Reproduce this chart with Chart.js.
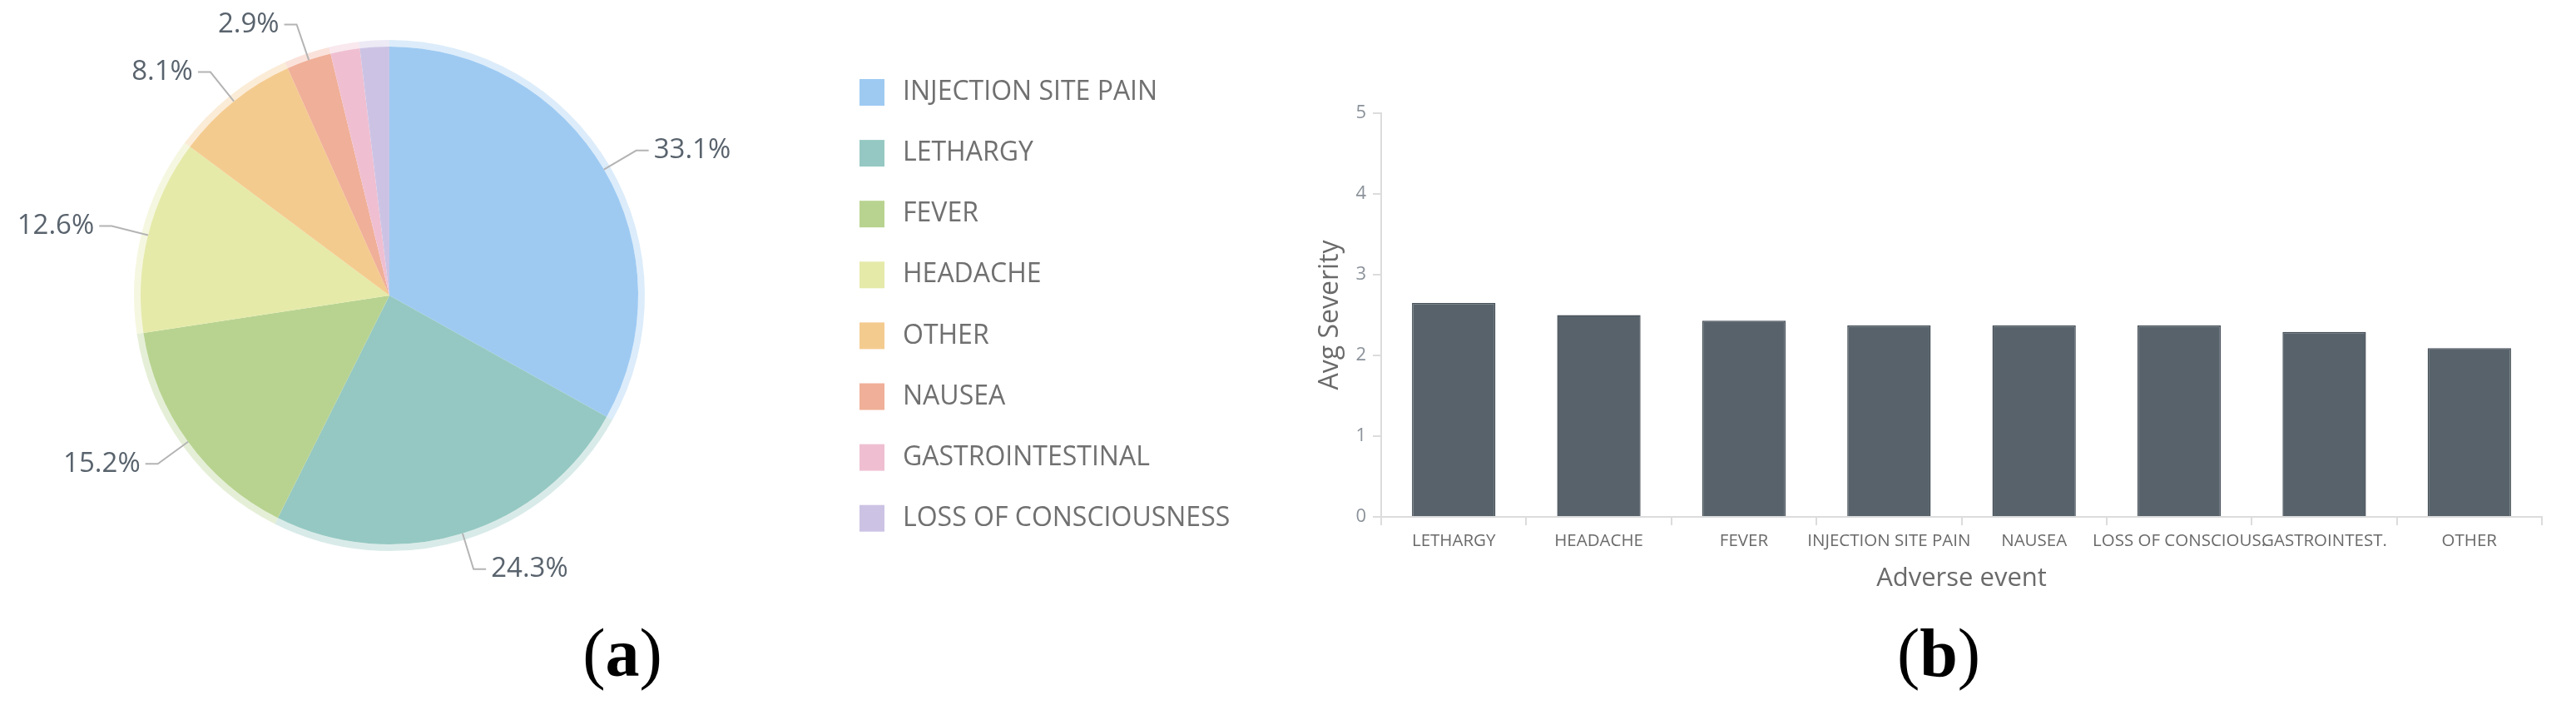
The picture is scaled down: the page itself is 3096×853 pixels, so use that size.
<!DOCTYPE html>
<html lang="en">
<head>
  <meta charset="UTF-8" />
  <title>Adverse events</title>
  <script src="https://cdn.jsdelivr.net/npm/chart.js"></script>
  <style>
    body { margin: 0; background: #fff; width: 3096px; height: 853px; position: relative; overflow: hidden; }
    canvas { position: absolute; top: 0; }
    #pieChart { left: 0; }
    #barChart { left: 1560px; }
    .caption { position: absolute; top: 738px; width: 200px; text-align: center;
      font-family: "Liberation Serif", serif; font-size: 82px; color: #000; }
    .caption b { font-weight: bold; }
  </style>
</head>
<body>
  <canvas id="pieChart" width="1560" height="720"></canvas>
  <canvas id="barChart" width="1536" height="740"></canvas>
  <div class="caption" style="left: 648px;">(<b>a</b>)</div>
  <div class="caption" style="left: 2230px;">(<b>b</b>)</div>

  <script>
    // (a) share of adverse events
    const pieCategories = ['INJECTION SITE PAIN', 'LETHARGY', 'FEVER', 'HEADACHE', 'OTHER',
      'NAUSEA', 'GASTROINTESTINAL', 'LOSS OF CONSCIOUSNESS'];
    const pieShares = [33.1, 24.3, 15.2, 12.6, 8.1, 2.9, 1.9, 1.9];
    const pieColors = ['#9ecaf2', '#95c8c2', '#b8d390', '#e5eaa9', '#f4cb8f', '#f0af98', '#efbfd1', '#ccc3e4'];

    // (b) average severity per event
    const barCategories = ['LETHARGY', 'HEADACHE', 'FEVER', 'INJECTION SITE PAIN', 'NAUSEA',
      'LOSS OF CONSCIOUS.', 'GASTROINTEST.', 'OTHER'];
    const avgSeverity = [2.65, 2.50, 2.43, 2.37, 2.37, 2.37, 2.29, 2.09];

    Chart.defaults.font.family = "'Open Sans', sans-serif";

    // light halo ring around the pie
    const haloColors = pieColors.map(c => c + '5c');

    // percentage labels with leader lines (only for the bigger slices)
    const pieLabels = {
      id: 'pieLabels',
      afterDatasetsDraw(chart) {
        const ctx = chart.ctx;
        const meta = chart.getDatasetMeta(1);
        ctx.save();
        ctx.font = "33px 'Open Sans', sans-serif";
        ctx.textBaseline = 'middle';
        meta.data.forEach((arc, i) => {
          const v = pieShares[i];
          if (v < 2.5) return;
          const mid = (arc.startAngle + arc.endAngle) / 2;
          const dx = Math.cos(mid), dy = Math.sin(mid);
          const r = arc.outerRadius;
          const x0 = arc.x + dx * r, y0 = arc.y + dy * r;
          const x1 = arc.x + dx * (r + 45), y1 = arc.y + dy * (r + 45);
          const side = dx >= 0 ? 1 : -1;
          const x2 = x1 + side * 15;
          ctx.strokeStyle = '#b4b4b4';
          ctx.lineWidth = 2;
          ctx.beginPath();
          ctx.moveTo(x0, y0);
          ctx.lineTo(x1, y1);
          ctx.lineTo(x2, y1);
          ctx.stroke();
          ctx.fillStyle = '#59636d';
          ctx.textAlign = side > 0 ? 'left' : 'right';
          ctx.fillText(v.toFixed(1) + '%', x2 + side * 6, y1);
        });
        ctx.restore();
      }
    };

    // legend column to the right of the pie
    const sideLegend = {
      id: 'sideLegend',
      afterDraw(chart) {
        const ctx = chart.ctx;
        ctx.save();
        ctx.font = "32px 'Open Sans', sans-serif";
        ctx.textBaseline = 'middle';
        ctx.textAlign = 'left';
        chart.data.labels.forEach((label, i) => {
          const y = 111 + i * 73.1;
          ctx.fillStyle = pieColors[i];
          ctx.fillRect(1033, y - 16, 30, 32);
          ctx.fillStyle = '#707070';
          ctx.fillText(label, 1085, y);
        });
        ctx.restore();
      }
    };

    new Chart(document.getElementById('pieChart'), {
      type: 'pie',
      data: {
        labels: pieCategories,
        datasets: [
          { data: pieShares, backgroundColor: haloColors, borderWidth: 0, hoverBorderWidth: 0, weight: 8 },
          { data: pieShares, backgroundColor: pieColors, borderWidth: 0, hoverBorderWidth: 0, weight: 300 }
        ]
      },
      options: {
        responsive: false,
        animation: false,
        layout: { padding: { left: 161, right: 785, top: 48, bottom: 58 } },
        plugins: { legend: { display: false }, tooltip: { enabled: false } }
      },
      plugins: [pieLabels, sideLegend]
    });

    new Chart(document.getElementById('barChart'), {
      type: 'bar',
      data: {
        labels: barCategories,
        datasets: [{
          data: avgSeverity,
          backgroundColor: '#57626b',
          borderColor: '#47515a',
          borderWidth: 1.5,
          barPercentage: 0.575,
          categoryPercentage: 1
        }]
      },
      options: {
        responsive: false,
        animation: false,
        layout: { padding: { left: 0, right: 41, top: 136, bottom: 0 } },
        plugins: { legend: { display: false }, tooltip: { enabled: false } },
        scales: {
          x: {
            grid: { offset: true, drawOnChartArea: false, tickLength: 10, color: '#dcdcdc', lineWidth: 2 },
            border: { display: true, color: '#dcdcdc', width: 2 },
            ticks: { color: '#6a6a6a', font: { size: 20.5 }, padding: 7, maxRotation: 0, autoSkip: false },
            title: { display: true, text: 'Adverse event', color: '#6a6a6a', font: { size: 31 }, padding: { top: 0, bottom: 26 } },
            afterFit: s => { s.height = 119; }
          },
          y: {
            min: 0,
            max: 5,
            ticks: { stepSize: 1, color: '#8b929a', font: { size: 22 }, padding: 8 },
            grid: { drawOnChartArea: false, tickLength: 10, color: '#dcdcdc', lineWidth: 2 },
            border: { display: true, color: '#dcdcdc', width: 2 },
            title: { display: true, text: 'Avg Severity', color: '#6a6a6a', font: { size: 32 }, padding: { top: 20, bottom: 0 } },
            afterFit: s => { s.width = 100; }
          }
        }
      }
    });
  </script>
</body>
</html>
